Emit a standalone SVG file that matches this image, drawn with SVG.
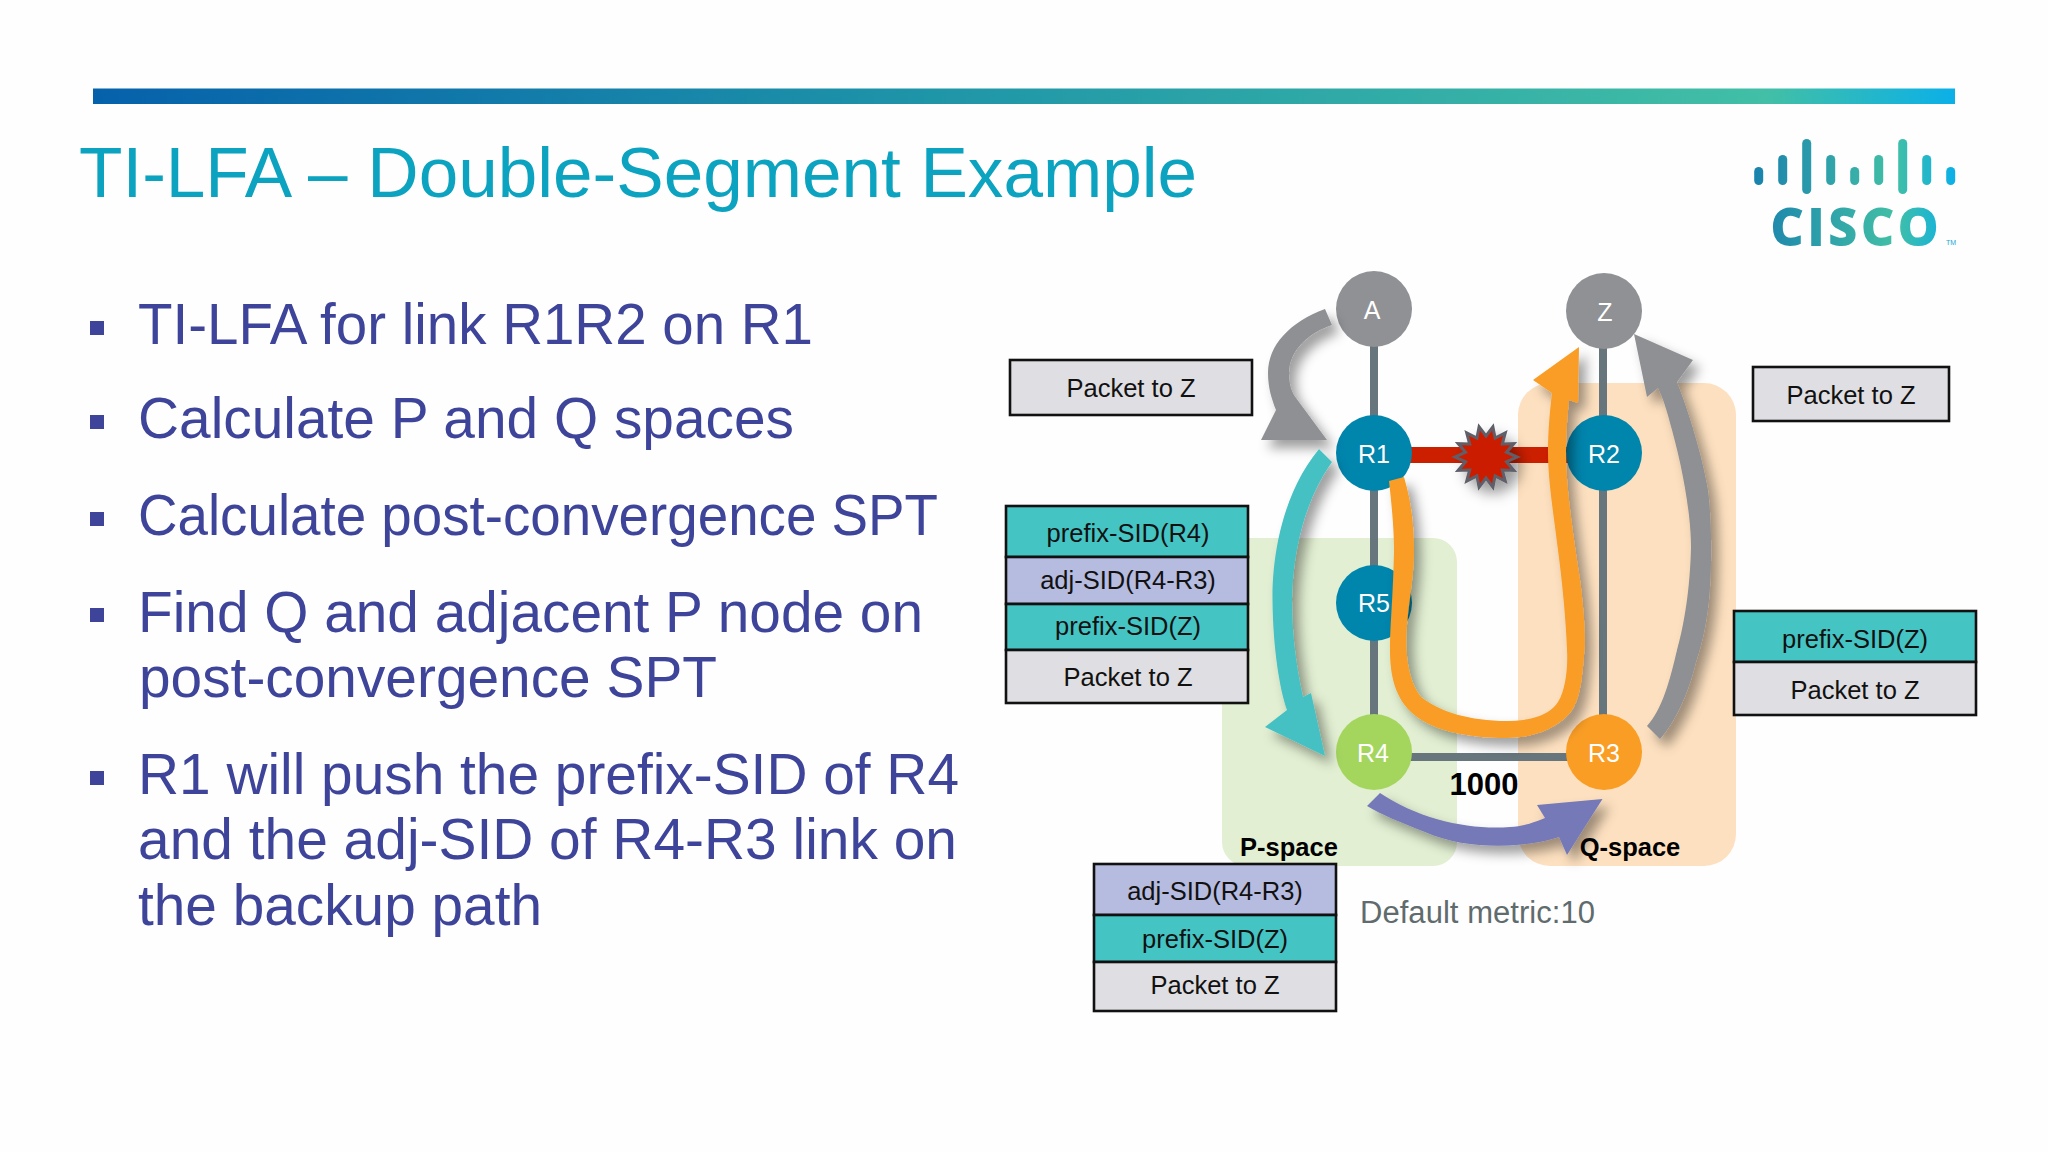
<svg xmlns="http://www.w3.org/2000/svg" width="2048" height="1152" viewBox="0 0 2048 1152">
<style>
text{font-family:"Liberation Sans",Arial,sans-serif}
.bul{font-size:58px;fill:#3d449a}
.sq{fill:#3d449a}
.box{stroke:#111;stroke-width:2.600}
.teal{fill:#45c4c4}.lav{fill:#b6bbe0}.gr{fill:#dfdee2}
.bt{font-size:25.500px;fill:#111;text-anchor:middle}
.nl{font-size:25px;fill:#fff;text-anchor:middle}
.lk{stroke:#66767c;stroke-width:8;fill:none}
.sp{font-size:25.500px;font-weight:bold;fill:#000;text-anchor:middle}
.nd{stroke:none}
</style>
<defs>
<linearGradient id="barG" x1="0" x2="1" y1="0" y2="0"><stop offset="0" stop-color="#0661ab"/><stop offset=".45" stop-color="#1f95a8"/><stop offset=".9" stop-color="#42bfa6"/><stop offset="1" stop-color="#0bb0e8"/></linearGradient>
<linearGradient id="logoG" gradientUnits="userSpaceOnUse" x1="1754" x2="1955" y1="0" y2="0"><stop offset="0" stop-color="#1a82ad"/><stop offset=".7" stop-color="#42bfa6"/><stop offset="1" stop-color="#0bb0e8"/></linearGradient>
<filter id="sh" x="-30%" y="-30%" width="170%" height="170%"><feDropShadow dx="7" dy="8" stdDeviation="6" flood-color="#000" flood-opacity=".38"/></filter>
</defs>
<rect width="2048" height="1152" fill="#fefefe"/>
<rect x="93" y="88.500" width="1862" height="15.500" fill="url(#barG)"/>
<text x="79" y="197" font-size="70" fill="#0ba3bf" textLength="1118" lengthAdjust="spacingAndGlyphs">TI-LFA – Double-Segment Example</text>
<g id="logo" fill="url(#logoG)">
<rect x="1754.200" y="167" width="9" height="18" rx="4.500"/><rect x="1778.200" y="155" width="9" height="30" rx="4.500"/><rect x="1802.200" y="139" width="9" height="55" rx="4.500"/><rect x="1826.200" y="155" width="9" height="30" rx="4.500"/><rect x="1850.200" y="167" width="9" height="18" rx="4.500"/><rect x="1874.200" y="155" width="9" height="30" rx="4.500"/><rect x="1898.200" y="139" width="9" height="55" rx="4.500"/><rect x="1922.200" y="155" width="9" height="30" rx="4.500"/><rect x="1946.200" y="167" width="9" height="18" rx="4.500"/>
<text x="1771" y="245" font-size="50" font-weight="bold" textLength="167" stroke="url(#logoG)" stroke-width="2" style="font-family:'Open Sans','Liberation Sans',sans-serif">CISCO</text>
<text x="1946" y="245" font-size="7" fill="#19a7d8">TM</text>
</g>
<g id="bullets">
<rect class="sq" x="90" y="321" width="14" height="14"/><text class="bul" x="138" y="344" textLength="675" lengthAdjust="spacingAndGlyphs">TI-LFA for link R1R2 on R1</text>
<rect class="sq" x="90" y="415" width="14" height="14"/><text class="bul" x="138" y="438" textLength="656" lengthAdjust="spacingAndGlyphs">Calculate P and Q spaces</text>
<rect class="sq" x="90" y="512" width="14" height="14"/><text class="bul" x="138" y="535" textLength="800" lengthAdjust="spacingAndGlyphs">Calculate post-convergence SPT</text>
<rect class="sq" x="90" y="608" width="14" height="14"/><text class="bul" x="138" y="632" textLength="785" lengthAdjust="spacingAndGlyphs">Find Q and adjacent P node on</text>
<text class="bul" x="139" y="697" textLength="578" lengthAdjust="spacingAndGlyphs">post-convergence SPT</text>
<rect class="sq" x="90" y="771" width="14" height="14"/><text class="bul" x="138" y="794" textLength="821" lengthAdjust="spacingAndGlyphs">R1 will push the prefix-SID of R4</text>
<text class="bul" x="138" y="859" textLength="819" lengthAdjust="spacingAndGlyphs">and the adj-SID of R4-R3 link on</text>
<text class="bul" x="138" y="925" textLength="404" lengthAdjust="spacingAndGlyphs">the backup path</text>
</g>
<g id="spaces">
<rect id="p-space" x="1222" y="538" width="235" height="328" rx="24" fill="#e2efd2"/>
<rect id="q-space" x="1518" y="383" width="218" height="483" rx="32" fill="#fde0bf"/>
<text class="sp" x="1289" y="856">P-space</text>
<text class="sp" x="1630" y="856">Q-space</text>
</g>
<g id="connectors">
<path class="lk" d="M1374 309V752"/>
<path class="lk" d="M1603 311V752"/>
<path class="lk" d="M1374 757H1605"/>
<rect id="failed-link" x="1400" y="447" width="170" height="16" fill="#cc1f00"/>
</g>
<g id="node-A"><circle class="nd" cx="1374" cy="309" r="38" fill="#8f9194"/><text class="nl" x="1372" y="319">A</text></g>
<g id="node-Z"><circle class="nd" cx="1604" cy="311" r="38" fill="#8f9194"/><text class="nl" x="1605" y="321">Z</text></g>
<g id="node-R1"><circle class="nd" cx="1374" cy="453" r="38" fill="#0085ad"/><text class="nl" x="1374" y="463">R1</text></g>
<g id="node-R2"><circle class="nd" cx="1604" cy="453" r="38" fill="#0085ad"/><text class="nl" x="1604" y="463">R2</text></g>
<g id="node-R5"><circle class="nd" cx="1374" cy="603" r="38" fill="#0085ad"/><text class="nl" x="1374" y="612">R5</text></g>
<g id="node-R4"><circle class="nd" cx="1374" cy="752" r="38" fill="#a4d65e"/><text class="nl" x="1373" y="762">R4</text></g>
<g id="node-R3"><circle class="nd" cx="1604" cy="752" r="38" fill="#f99d25"/><text class="nl" x="1604" y="762">R3</text></g>
<polygon id="failure-star" transform="translate(1486 457)" filter="url(#sh)" fill="#cc1f00" stroke="#5f5f6a" stroke-width="3" points="31,0 20.500,4.700 27.900,13.500 16.400,13.100 19.300,24.200 9.100,18.900 6.900,30.200 0,21 -6.900,30.200 -9.100,18.900 -19.300,24.200 -16.400,13.100 -27.900,13.500 -20.500,4.700 -31,0 -20.500,-4.700 -27.900,-13.500 -16.400,-13.100 -19.300,-24.200 -9.100,-18.900 -6.900,-30.200 0,-21 6.900,-30.200 9.100,-18.900 19.300,-24.200 16.400,-13.100 27.900,-13.500 20.500,-4.700"/>
<g id="flow-arrows" filter="url(#sh)">
<path id="arrow-gray-left" fill="#8f9093" d="M1325 309C1290 322 1268 345 1268 373C1268 388 1272 400 1276 410L1261 440L1327 440L1296 398C1290 390 1289 380 1289 373C1289 350 1310 332 1332 325Z"/>
<path id="arrow-teal" fill="#45c1c4" d="M1319 449C1285 490 1272 550 1272.500 600C1273 650 1280 690 1287 710L1265 727L1325 756L1311 693L1303 697C1295 660 1292 630 1292 600C1293 550 1305 500 1332 462Z"/>
<path id="arrow-orange" fill="#f99d25" d="M1389 481L1404 477C1411 500 1414 525 1414 550C1414 575 1409 600 1407 625C1405 650 1407 680 1421 697C1440 712 1470 721 1507 721C1530 721 1550 715 1558 702C1566 690 1568 665 1567 650C1566 620 1562 580 1558 550C1553 510 1548 480 1548 452C1548 430 1550 410 1552 393L1533 380L1579 347L1578 403L1569 400C1567 420 1566 435 1566 452C1566 490 1574 540 1580 580C1584 610 1586 640 1584 655C1582 680 1580 700 1570 713C1555 730 1530 738 1507 738C1465 738 1430 730 1411 712C1393 695 1390 670 1390 650C1390 625 1393 600 1394 550C1394 525 1391 500 1389 481Z"/>
<path id="arrow-purple" fill="#7579b8" d="M1380 793C1420 820 1470 830 1510 827C1525 826 1535 822 1545 818L1537 805L1602.500 799L1567 855L1559 837C1530 847 1470 852 1425 832C1400 822 1382 815 1367 806Z"/>
<path id="arrow-gray-right" fill="#8f9093" d="M1647 726C1662 710 1670 680 1677 650C1684 625 1690 590 1691 547C1691 515 1683 470 1672 430C1668 415 1664 400 1658 388L1647 397L1634 334L1693 360L1677 382C1692 420 1704 465 1708 490C1712 520 1712 570 1709 600C1706 630 1700 650 1696 662C1688 695 1675 722 1660 739Z"/>
</g>
<g id="box-A">
<rect class="box gr" x="1010" y="360" width="242" height="55"/><text class="bt" x="1131" y="397">Packet to Z</text>
</g>
<g id="stack-R1">
<rect class="box teal" x="1006" y="506" width="242" height="51"/><text class="bt" x="1128" y="542">prefix-SID(R4)</text>
<rect class="box lav" x="1006" y="557" width="242" height="47"/><text class="bt" x="1128" y="589">adj-SID(R4-R3)</text>
<rect class="box teal" x="1006" y="604" width="242" height="46"/><text class="bt" x="1128" y="635">prefix-SID(Z)</text>
<rect class="box gr" x="1006" y="650" width="242" height="53"/><text class="bt" x="1128" y="686">Packet to Z</text>
</g>
<g id="stack-R4">
<rect class="box lav" x="1094" y="864" width="242" height="51"/><text class="bt" x="1215" y="900">adj-SID(R4-R3)</text>
<rect class="box teal" x="1094" y="915" width="242" height="47"/><text class="bt" x="1215" y="948">prefix-SID(Z)</text>
<rect class="box gr" x="1094" y="962" width="242" height="49"/><text class="bt" x="1215" y="994">Packet to Z</text>
</g>
<g id="stack-R3">
<rect class="box teal" x="1734" y="611" width="242" height="51"/><text class="bt" x="1855" y="648">prefix-SID(Z)</text>
<rect class="box gr" x="1734" y="662" width="242" height="53"/><text class="bt" x="1855" y="699">Packet to Z</text>
</g>
<g id="box-Z">
<rect class="box gr" x="1753" y="367" width="196" height="54"/><text class="bt" x="1851" y="404">Packet to Z</text>
</g>
<text id="metric-1000" x="1484" y="795" font-size="31" font-weight="bold" fill="#000" text-anchor="middle">1000</text>
<text id="default-metric" x="1360" y="923" font-size="31" fill="#5f6b6d" textLength="235">Default metric:10</text>
</svg>
